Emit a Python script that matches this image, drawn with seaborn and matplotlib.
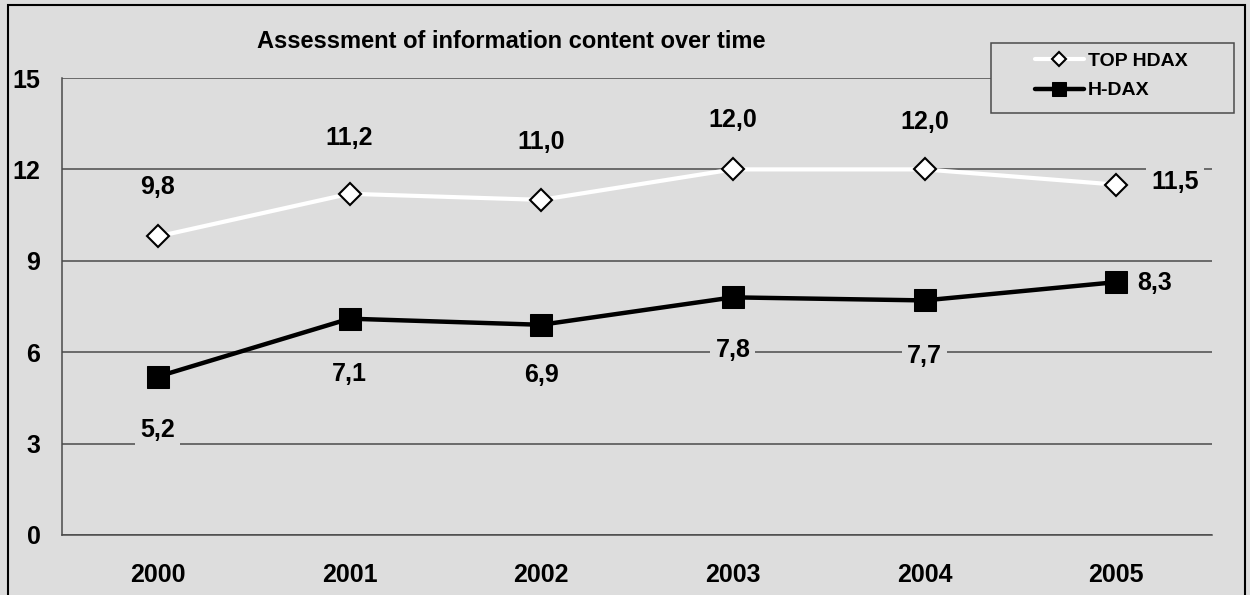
import numpy as np
import pandas as pd
import seaborn as sns
import matplotlib.pyplot as plt
from matplotlib.patches import Rectangle

# Chart data
years = [2000, 2001, 2002, 2003, 2004, 2005]
top_hdax = [9.8, 11.2, 11.0, 12.0, 12.0, 11.5]
h_dax = [5.2, 7.1, 6.9, 7.8, 7.7, 8.3]
y_ticks = [0, 3, 6, 9, 12, 15]
series_names = ['TOP HDAX', 'H-DAX']
title = 'Assessment of information content over time'

# Value label offsets in pixels (dx, dy)
top_offsets = [(0, 49), (0, 56), (0, 58), (0, 49), (0, 47), (59, 3)]
hdax_offsets = [(0, -53), (0, -55), (0, -50), (0, -53), (0, -56), (38, -1)]

df = pd.DataFrame({'Year': years, series_names[0]: top_hdax, series_names[1]: h_dax})

bg = '#DDDDDD'
grid_col = '#4A4A4A'

sns.set_style('white')
plt.rcParams['font.family'] = ['Liberation Sans', 'DejaVu Sans']
plt.rcParams['font.weight'] = 'bold'
plt.rcParams['text.color'] = 'black'

fig = plt.figure(figsize=(12.5, 5.95), dpi=100, facecolor=bg)
ax = fig.add_axes([62 / 1250, 60 / 595, 1150 / 1250, 457 / 595])
ax.set_facecolor(bg)

sns.lineplot(data=df, x='Year', y=series_names[0], ax=ax, color='white', lw=3,
             marker='D', ms=11.5, mfc='white', mec='black', mew=1.5,
             label=series_names[0], zorder=3)
sns.lineplot(data=df, x='Year', y=series_names[1], ax=ax, color='black', lw=3.2,
             marker='s', ms=16, mfc='black', mec='black',
             label=series_names[1], zorder=3)

ax.set_xlim(1999.5, 2005.5)
ax.set_ylim(0, 15)
ax.set_yticks(y_ticks)
ax.set_xticks(np.arange(1999.5, 2006, 1))
ax.set_xticklabels([])
ax.set_xticks(years, minor=True)
ax.set_xticklabels([str(y) for y in years], minor=True)
ax.tick_params(axis='x', which='major', length=7, width=1.1, color=grid_col, direction='out')
ax.tick_params(axis='x', which='minor', length=0, pad=20, labelsize=18, labelcolor='black')
ax.tick_params(axis='y', length=6.5, width=1.1, color=grid_col, pad=9, labelsize=18,
               labelcolor='black', direction='out')
ax.yaxis.grid(True, color=grid_col, lw=1.1)
ax.xaxis.grid(False)
ax.set_axisbelow(True)
ax.set_xlabel('')
ax.set_ylabel('')
for side in ['top', 'right']:
    ax.spines[side].set_visible(False)
for side in ['left', 'bottom']:
    ax.spines[side].set_color(grid_col)
    ax.spines[side].set_linewidth(1.1)

# Value labels
for vals, offs in [(top_hdax, top_offsets), (h_dax, hdax_offsets)]:
    for x, y, (dx, dy) in zip(years, vals, offs):
        ax.annotate(f'{y:.1f}'.replace('.', ','), xy=(x, y), xytext=(dx, dy),
                    textcoords='offset pixels', ha='center', va='center', color='black',
                    fontsize=18, fontweight='bold', zorder=5, annotation_clip=False,
                    bbox=dict(boxstyle='square,pad=0.2', fc=bg, ec='none'))

# Title
fig.text(511 / 1250, 1 - 42 / 595, title, ha='center', va='center', fontsize=17,
         fontweight='bold', color='black')

# Legend with its own box
handles, labels = ax.get_legend_handles_labels()
ax.get_legend().remove()
fig.patches.append(Rectangle((991 / 1250, 1 - 113 / 595), 243 / 1250, 70 / 595,
                             transform=fig.transFigure, fc=bg, ec=grid_col, lw=1.1, zorder=4))
fig.legend(handles, labels, loc='center left', bbox_to_anchor=(1035 / 1250, 1 - 76 / 595),
           frameon=False, fontsize=14, handlelength=2.5, handletextpad=0.2, borderpad=0,
           borderaxespad=0, labelspacing=0.6, markerscale=0.65, labelcolor='black')

# Outer border
fig.patches.append(Rectangle((8 / 1250, -0.05), 1237 / 1250, 1 - 5 / 595 + 0.05,
                             transform=fig.transFigure, fill=False, ec='black', lw=1.5,
                             zorder=10, clip_on=False))

fig.savefig('out.png', dpi=100, facecolor=bg)
